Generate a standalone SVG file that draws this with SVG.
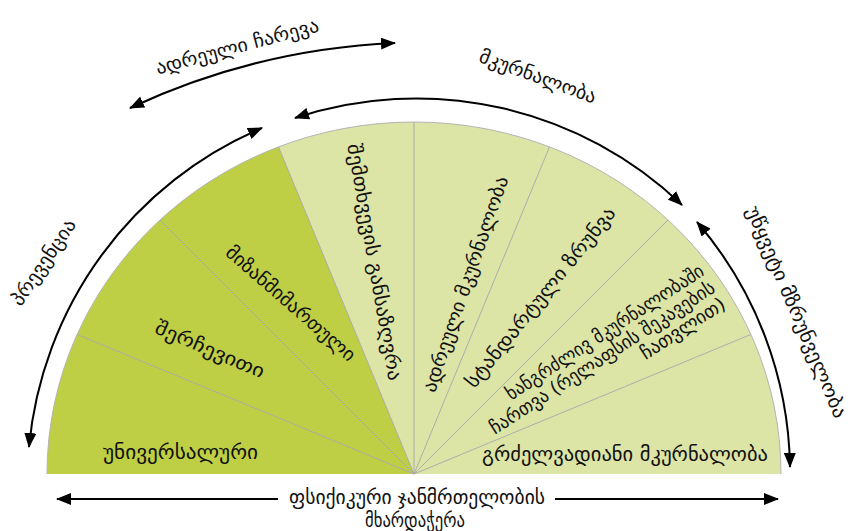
<svg xmlns="http://www.w3.org/2000/svg" width="850" height="531" viewBox="0 0 850 531">
<defs>
<style>
.dk{fill:#bfcf45}
.lt{fill:#dce4a6}
.div{stroke:#a6a6a6;stroke-width:0.9;fill:none}
.rim{stroke:#b4b4b4;stroke-width:1;fill:none}
.t{font-family:"DejaVu Sans",sans-serif;font-size:19px;fill:#111;text-anchor:middle;dominant-baseline:central}
.te{text-anchor:end}
.arr{stroke:#000;stroke-width:2;fill:none;marker-start:url(#ah);marker-end:url(#ah)}
.arr1{stroke:#000;stroke-width:2;fill:none;marker-end:url(#ah)}
</style>
<marker id="ah" markerUnits="userSpaceOnUse" markerWidth="16" markerHeight="12" refX="14" refY="6" orient="auto-start-reverse" viewBox="0 0 16 12">
<path d="M0,0 L15,6 L0,12 Z" fill="#000"/>
</marker>
</defs>
<g id="slice-universal">
<path class="dk" d="M414,474 L47,474 A367,352 0 0 1 77.08,334.44 Z"/>
<text class="t" x="180.5" y="452" textLength="155" lengthAdjust="spacingAndGlyphs">უნივერსალური</text>
</g>
<g id="slice-selective">
<path class="dk" d="M414,474 L77.08,334.44 A367,352 0 0 1 159.96,219.96 Z"/>
<text class="t" transform="translate(210,349) rotate(23)" textLength="117" lengthAdjust="spacingAndGlyphs">შერჩევითი</text>
</g>
<g id="slice-targeted">
<path class="dk" d="M414,474 L159.96,219.96 A367,352 0 0 1 278.5,146.87 Z"/>
<text class="t" transform="translate(291,303) rotate(41)" textLength="165" lengthAdjust="spacingAndGlyphs">მიზანმიმართული</text>
</g>
<g id="slice-case-identification">
<path class="lt" d="M414,474 L278.5,146.87 A367,352 0 0 1 414,122 Z"/>
<text class="t" transform="translate(375,262) rotate(80)" textLength="240" lengthAdjust="spacingAndGlyphs">შემთხვევის განსაზღვრა</text>
</g>
<g id="slice-early-treatment">
<path class="lt" d="M414,474 L414,122 A367,352 0 0 1 549.5,146.87 Z"/>
<text class="t" transform="translate(465,284) rotate(-71)" textLength="227" lengthAdjust="spacingAndGlyphs">ადრეული მკურნალობა</text>
</g>
<g id="slice-standard-care">
<path class="lt" d="M414,474 L549.5,146.87 A367,352 0 0 1 668.04,219.96 Z"/>
<text class="t" transform="translate(540,297) rotate(-51)" textLength="226" lengthAdjust="spacingAndGlyphs">სტანდარტული ზრუნვა</text>
</g>
<g id="slice-engagement">
<path class="lt" d="M414,474 L668.04,219.96 A367,352 0 0 1 750.92,334.44 Z"/>
<g transform="translate(701.7,268.4) rotate(-33)">
<text class="t te" x="0" y="0" textLength="232" lengthAdjust="spacingAndGlyphs">ხანგრძლივ მკურნალობაში</text>
<text class="t te" x="0" y="20" textLength="264" lengthAdjust="spacingAndGlyphs">ჩართვა (რელაფსის შეკავების</text>
<text class="t te" x="0" y="39.5" textLength="97" lengthAdjust="spacingAndGlyphs">ჩათვლით)</text>
</g>
</g>
<g id="slice-long-term">
<path class="lt" d="M414,474 L750.92,334.44 A367,352 0 0 1 781,474 Z"/>
<text class="t" x="625" y="454" textLength="286" lengthAdjust="spacingAndGlyphs">გრძელვადიანი მკურნალობა</text>
</g>
<g id="dividers">
<path class="div" d="M414,474 L77.08,334.44 M414,474 L159.96,219.96 M414,474 L278.5,146.87 M414,474 L414,122 M414,474 L549.5,146.87 M414,474 L668.04,219.96 M414,474 L750.92,334.44"/>
<path class="rim" d="M47,474 A367,352 0 0 1 781,474"/>
</g>
<g id="connectors">
<path class="arr" d="M262,128 A385,385 0 0 0 29,447"/>
<path class="arr" d="M130,108 A700,700 0 0 1 395,43"/>
<path class="arr" d="M295,118 A385,385 0 0 1 682,205"/>
<path class="arr" d="M697,222 A385,385 0 0 1 790,467"/>
<path class="arr1" d="M278,499 L57,499"/>
<path class="arr1" d="M555,499 L778,499"/>
</g>
<g id="label-prevention">
<text class="t" transform="translate(43,262) rotate(-56)" textLength="100" lengthAdjust="spacingAndGlyphs">პრევენცია</text>
</g>
<g id="label-early-intervention">
<text class="t" transform="translate(237,46) rotate(-15)" textLength="168" lengthAdjust="spacingAndGlyphs">ადრეული ჩარევა</text>
</g>
<g id="label-treatment">
<text class="t" transform="translate(538,76) rotate(20)" textLength="123" lengthAdjust="spacingAndGlyphs">მკურნალობა</text>
</g>
<g id="label-continuous-care">
<text class="t" transform="translate(797,312) rotate(67)" textLength="228" lengthAdjust="spacingAndGlyphs">უწყვეტი მზრუნველობა</text>
</g>
<g id="label-mental-health">
<text class="t" x="417" y="497" textLength="256" lengthAdjust="spacingAndGlyphs">ფსიქიკური ჯანმრთელობის</text>
<text class="t" x="415" y="520" textLength="100" lengthAdjust="spacingAndGlyphs">მხარდაჭერა</text>
</g>
</svg>
